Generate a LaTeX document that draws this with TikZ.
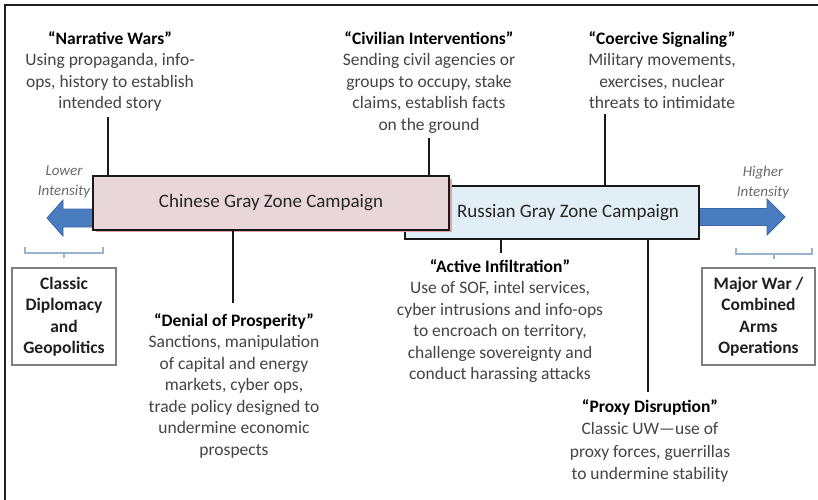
\documentclass[tikz,border=0pt]{standalone}
\usepackage{fontspec}
\setmainfont{Carlito}
\definecolor{pinkfill}{HTML}{E8D6D9}
\definecolor{bluefill}{HTML}{E2EEF5}
\definecolor{arrowblue}{HTML}{4A7DC0}
\definecolor{arrowedge}{HTML}{3A68A6}
\definecolor{brkcol}{HTML}{9BB2CE}
\definecolor{textgray}{HTML}{444444}
\definecolor{boxgray}{HTML}{7F7F7F}
\definecolor{pinkshadow}{HTML}{DDA3A8}
\definecolor{intgray}{HTML}{6A6A6A}
\begin{document}
\begin{tikzpicture}[x=1pt,y=-1pt,
  body/.style={align=center, font=\fontsize{17.5}{21.5}\selectfont, text=textgray, inner sep=0pt},
  conn/.style={line width=2.4pt, draw=black!90},
  campaign/.style={draw=black!90, line width=2.2pt, inner sep=0pt, font=\fontsize{19}{23}\selectfont, text=black!85},
  sidebox/.style={draw=boxgray, line width=1.3pt, align=center, inner sep=0pt,
    font=\bfseries\fontsize{17.5}{21.5}\selectfont, text=black!88},
  intens/.style={align=center, font=\itshape\fontsize{15}{20}\selectfont, text=intgray, inner sep=0pt},
  brk/.style={draw=brkcol, line width=1.2pt},
  arrowshape/.style={fill=arrowblue, draw=arrowedge, line width=0.8pt, line join=miter}
]
\useasboundingbox (0,0) rectangle (818,499);
\fill[white] (0,0) rectangle (818,499);
% outer frame (cropped at right and bottom)
\draw[line width=1.5pt, black!88] (5,510) -- (5,5) -- (830,5);

% arrows
\draw[arrowshape] (120,209) -- (63,209) -- (63,200) -- (47,218) -- (63,236) -- (63,227) -- (120,227) -- cycle;
\draw[arrowshape] (680,208.5) -- (767,208.5) -- (767,199) -- (785,217) -- (767,235) -- (767,225.5) -- (680,225.5) -- cycle;

% campaign boxes
\node[campaign, fill=bluefill, minimum width=294pt, minimum height=53pt] (rbox) at (552,212.5)
  {\hspace*{32pt}Russian Gray Zone Campaign};
\fill[pinkshadow] (95.5,178.5) rectangle (451.5,231.5);
\node[campaign, fill=pinkfill, minimum width=356pt, minimum height=54pt] (cbox) at (271,203)
  {Chinese Gray Zone Campaign};

% intensity labels
\node[intens] (lo) at (64,182) {Lower\\Intensity};
\node[intens] (hi) at (763,182) {Higher\\Intensity};

% end boxes
\node[sidebox, minimum width=104pt, minimum height=97pt] (cdip) at (64,316.5)
  {Classic\\Diplomacy\\and\\Geopolitics};
\node[sidebox, minimum width=113pt, minimum height=97pt] (mwar) at (758.5,316.5)
  {Major War /\\Combined\\Arms\\Operations};

% brackets
\draw[brk] (25,247) -- (25,253) -- (103,253) -- (103,247);
\draw[brk] (64,253) -- (64,258);
\draw[brk] (736,248) -- (736,254) -- (812,254) -- (812,248);
\draw[brk] (774,254) -- (774,259);

% top texts
\node[body, anchor=north] (narr) at (110,31)
  {\textbf{\color{black}“Narrative Wars”}\\Using propaganda, info-\\ops, history to establish\\intended story};
\node[body, anchor=north] (civ) at (429,31)
  {\textbf{\color{black}“Civilian Interventions”}\\Sending civil agencies or\\groups to occupy, stake\\claims, establish facts\\on the ground};
\node[body, anchor=north] (coer) at (662,31)
  {\textbf{\color{black}“Coercive Signaling”}\\Military movements,\\exercises, nuclear\\threats to intimidate};

% bottom texts
\node[body, anchor=north] (den) at (234,313)
  {\textbf{\color{black}“Denial of Prosperity”}\\Sanctions, manipulation\\of capital and energy\\markets, cyber ops,\\trade policy designed to\\undermine economic\\prospects};
\node[body, anchor=north] (act) at (500,259)
  {\textbf{\color{black}“Active Infiltration”}\\Use of SOF, intel services,\\cyber intrusions and info-ops\\to encroach on territory,\\challenge sovereignty and\\conduct harassing attacks};
\node[body, anchor=north, font=\fontsize{17.5}{22.5}\selectfont] (prox) at (650,399)
  {\textbf{\color{black}“Proxy Disruption”}\\Classic UW—use of\\proxy forces, guerrillas\\to undermine stability};

% connectors
\path ([xshift=-2pt,yshift=-5pt]narr.south) coordinate (n1);
\draw[conn] (n1) -- (n1 |- cbox.north);
\path ([yshift=-5pt]civ.south) coordinate (c1);
\draw[conn] (c1) -- (c1 |- cbox.north);
\path ([xshift=-57pt,yshift=-5pt]coer.south) coordinate (s1);
\draw[conn] (s1) -- (s1 |- rbox.north);
\path ([xshift=-1pt,yshift=10pt]den.north) coordinate (d1);
\draw[conn] (d1 |- cbox.south) -- (d1);
\path ([xshift=1pt,yshift=6pt]act.north) coordinate (a1);
\draw[conn] (a1 |- rbox.south) -- (a1);
\path ([xshift=-2pt,yshift=7pt]prox.north) coordinate (p1);
\draw[conn] (p1 |- rbox.south) -- (p1);
\end{tikzpicture}
\end{document}
